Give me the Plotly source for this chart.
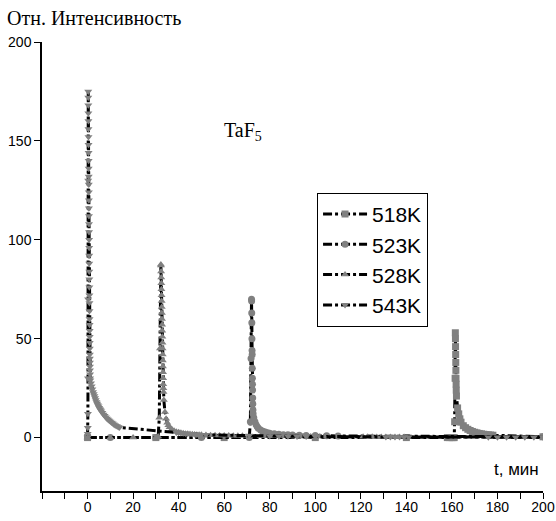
import plotly.graph_objects as go

# ---- data ----
series_names = ["518K", "523K", "528K", "543K"]

t518 = [0, 30, 60, 100, 140, 158, 159, 160, 160.5, 161, 161.2,
        161.4, 161.5, 161.55, 161.6, 161.65, 161.7, 161.75, 161.8, 161.85, 161.9, 162.0,
        162.5, 163, 163.5, 164, 165, 166, 167, 168, 169, 170, 171, 172, 173, 174, 175,
        176, 177, 178, 200]
i518 = [0, 0, 0, 0, 0, 0, 0, 0, 0, 0, 8,
        30, 53, 50, 46, 42, 38, 34, 30, 27, 24, 21,
        15, 12, 9.5, 7.8, 6, 5, 4.2, 3.6, 3.1, 2.7, 2.4, 2.1, 1.9, 1.7, 1.5,
        1.4, 1.3, 1.2, 0.4]

t523 = [0, 10, 30, 50, 71, 71.5, 71.8,
        72.0, 72.05, 72.1, 72.15, 72.2, 72.25, 72.3, 72.35, 72.4, 72.45, 72.5, 72.55, 72.6, 72.65, 72.7,
        73, 73.5, 74, 74.5, 75, 76, 77, 78, 79, 80, 82, 84, 86, 88, 90, 93, 96, 100, 105, 110, 200]
i523 = [0, 0, 0, 0, 0, 8, 40,
        70, 69, 63, 58, 50, 44, 42, 35, 30, 27, 24, 20, 17, 14, 12,
        10, 8, 6.5, 5.5, 4.7, 3.8, 3.2, 2.8, 2.5, 2.2, 1.9, 1.7, 1.5, 1.4, 1.3, 1.2, 1.1, 1.0, 0.9, 0.8, 0.4]

t528 = [0, 10, 20, 30, 30.5, 31, 31.5, 31.8,
        32.2, 32.25, 32.3, 32.35, 32.4, 32.45, 32.5, 32.55, 32.6, 32.65, 32.7, 32.75,
        32.8, 32.85, 32.9, 32.95, 33.0, 33.05, 33.1, 33.15, 33.2, 33.25, 33.3, 33.35,
        33.5, 34, 34.5, 35, 35.5, 36, 37, 38, 39, 40, 41, 42, 43, 44, 45, 46, 47, 48, 49, 50,
        52, 54, 56, 58, 60, 62, 64, 66, 68,
        76, 78, 80, 82, 84, 86, 88, 90, 92, 94, 96, 98, 100, 102, 104,
        121, 123, 125, 127, 129, 131, 133, 135, 137, 139, 200]
i528 = [0, 0, 0, 0, 0, 0.5, 10, 45,
        87.5, 87, 84, 81, 78, 75, 72, 69, 66, 63, 60, 57,
        54, 51, 48, 45, 42, 39, 36, 33, 30, 27, 25, 23,
        19, 13, 9.5, 7.5, 6.2, 5.2, 4.2, 3.5, 3.0, 2.7, 2.4, 2.2, 2.0, 1.9, 1.8, 1.7, 1.6, 1.5, 1.45, 1.4,
        1.3, 1.2, 1.15, 1.1, 1.05, 1.0, 0.95, 0.9, 0.9,
        0.8, 0.8, 0.75, 0.75, 0.7, 0.7, 0.65, 0.65, 0.6, 0.6, 0.6, 0.55, 0.55, 0.5, 0.5,
        0.4, 0.4, 0.4, 0.35, 0.35, 0.35, 0.3, 0.3, 0.3, 0.3, 0.2]

t543 = [0, 0.05, 0.1, 0.15, 0.2, 0.25, 0.28,
        0.30, 0.32, 0.34, 0.36, 0.38, 0.40, 0.42, 0.44, 0.46, 0.48, 0.50, 0.52, 0.54, 0.56,
        0.58, 0.60, 0.62, 0.64, 0.66, 0.68, 0.70, 0.72, 0.74, 0.76, 0.78, 0.80, 0.82, 0.84,
        0.86, 0.88, 0.90, 0.92, 0.94, 0.96, 0.98, 1.00, 1.02, 1.04, 1.06, 1.08, 1.10, 1.12,
        1.2, 1.5, 1.8, 2.1, 2.4, 2.7, 3.0, 3.3, 3.6, 3.9, 4.2, 4.5, 4.8, 5.1, 5.4, 5.7, 6.0,
        6.5, 7.0, 7.5, 8.0, 8.5, 9.0, 9.5, 10.0, 10.5, 11.0, 11.5, 12.0, 12.5, 13.0, 13.5, 14.0,
        39, 40, 41, 42, 43, 44, 45, 46, 47, 48, 49, 50, 52, 71,
        80, 84, 88, 92, 96, 100,
        131, 133, 135, 137, 139, 141,
        176, 180, 184, 188, 192, 196, 200]
i543 = [0, 2, 5, 12, 30, 70, 130,
        175, 172, 168, 164, 160, 156, 152, 148, 144, 140, 136, 132, 128, 124,
        120, 116, 112, 108, 104, 100, 96, 92, 88, 84, 80, 76, 72, 68,
        64, 60, 57, 54, 51, 48, 45, 42, 40, 38, 36, 34, 32, 30,
        29, 27.5, 26, 24.5, 23, 22, 21, 20, 19, 18, 17.2, 16.5, 15.8, 15.1, 14.5, 13.9, 13.3,
        12.5, 11.7, 11.0, 10.3, 9.7, 9.1, 8.6, 8.1, 7.6, 7.2, 6.8, 6.4, 6.0, 5.7, 5.4, 5.1,
        2.6, 2.4, 2.3, 2.2, 2.1, 2.0, 1.9, 1.8, 1.7, 1.6, 1.5, 1.5, 1.4, 1.0,
        0.8, 0.7, 0.7, 0.6, 0.6, 0.5,
        0.35, 0.35, 0.3, 0.3, 0.3, 0.3,
        0.2, 0.2, 0.2, 0.2, 0.2, 0.2, 0.2]

x_tickvals = [0, 20, 40, 60, 80, 100, 120, 140, 160, 180, 200]
y_tickvals = [0, 50, 100, 150, 200]

series_t = [t518, t523, t528, t543]
series_i = [i518, i523, i528, i543]
symbols = ["square", "circle", "triangle-up", "triangle-down"]

fig = go.Figure()
for name, tt, ii, sym in zip(series_names, series_t, series_i, symbols):
    fig.add_trace(go.Scatter(
        x=tt, y=ii, name=name, mode="lines+markers",
        line=dict(color="black", width=3, dash="dashdot"),
        marker=dict(symbol=sym, size=7, color="#808080", line=dict(width=0)),
    ))

axis_font = dict(family="Liberation Sans, Arial, sans-serif", size=14, color="black")

fig.update_layout(
    width=556, height=521,
    margin=dict(l=42, r=13, t=42, b=30, autoexpand=False),
    paper_bgcolor="white", plot_bgcolor="white",
    showlegend=True,
    legend=dict(
        x=0.549, y=0.664, xanchor="left", yanchor="top",
        bordercolor="black", borderwidth=1, bgcolor="white",
        font=dict(family="Liberation Sans, Arial, sans-serif", size=21, color="black"),
        tracegroupgap=0, itemwidth=44,
    ),
    xaxis=dict(
        range=[-20, 200], showgrid=False, zeroline=False,
        showline=True, linecolor="black", linewidth=1.5,
        ticks="outside", ticklen=6, tickwidth=1.2, tickcolor="black",
        tickvals=x_tickvals, ticktext=[str(v) for v in x_tickvals],
        tickfont=axis_font, automargin=False, ticklabelstandoff=-4,
        minor=dict(ticks="outside", tick0=0, dtick=10, ticklen=6, tickwidth=1.2, tickcolor="black"),
    ),
    yaxis=dict(
        range=[-27, 200], showgrid=False, zeroline=False,
        showline=True, linecolor="black", linewidth=1.5,
        ticks="outside", ticklen=6, tickwidth=1.2, tickcolor="black",
        tickvals=y_tickvals, ticktext=[str(v) for v in y_tickvals],
        tickfont=axis_font, automargin=False,
    ),
    annotations=[
        dict(text="Отн. Интенсивность", xref="paper", yref="paper",
             x=-0.074, y=1.0535, xanchor="left", yanchor="middle", showarrow=False,
             font=dict(family="Liberation Serif, Times New Roman, serif", size=20, color="black")),
        dict(text="t, мин", xref="paper", yref="paper",
             x=0.996, y=0.047, xanchor="right", yanchor="middle", showarrow=False,
             font=dict(family="Liberation Sans, Arial, sans-serif", size=17, color="black")),
        dict(text="TaF<sub>5</sub>", xref="paper", yref="paper",
             x=0.36, y=0.80, xanchor="left", yanchor="middle", showarrow=False,
             font=dict(family="Liberation Serif, Times New Roman, serif", size=20, color="black")),
    ],
)

# remove the default page margin so the figure fills the window exactly
fig.write_html(
    "out.html",
    config={"displayModeBar": False},
    post_script="document.body.style.margin='0';document.body.style.overflow='hidden';",
)
